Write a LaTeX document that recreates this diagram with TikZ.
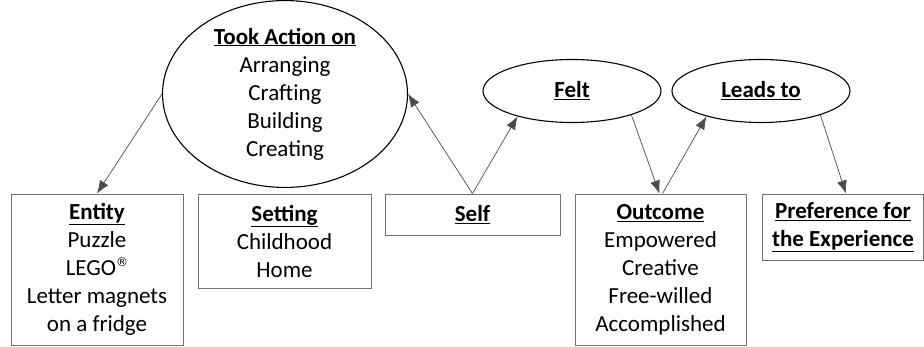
\documentclass[tikz,border=0pt]{standalone}
\usepackage{fontspec}
\setmainfont{Carlito}
\newfontfamily\symfont{DejaVu Sans}
\usetikzlibrary{positioning,shapes.geometric,arrows.meta}
\tikzset{x=1pt, y=-1pt,
  box/.style={draw=black!55, line width=0.9pt, align=center, inner sep=0pt, font=\fontsize{23}{28}\selectfont},
  oval/.style={draw=black, ellipse, line width=1.1pt, align=center, inner sep=0pt, font=\fontsize{23}{28}\selectfont},
  link/.style={draw=black!70, line width=0.7pt, -{Latex[length=13pt,width=10pt]}}}
\newcommand{\hd}[1]{\underline{\textbf{#1}}}
\newcommand{\reg}{\raisebox{0.8ex}{\symfont\fontsize{12}{12}\selectfont ®}}

\begin{document}
\begin{tikzpicture}
      \useasboundingbox (0,0) rectangle (924,347);
      \node[oval, minimum width=245, minimum height=168] (took) at (285,94)
        {\hd{Took Action on}\\Arranging\\Crafting\\Building\\Creating};
      \node[oval, minimum width=178, minimum height=63] (felt) at (572,91) {\hd{Felt}};
      \node[oval, minimum width=178, minimum height=63] (leads) at (761,91) {\hd{Leads to}};

      \node[box, minimum width=172, minimum height=151] (entity) at (97,269.5)
        {\hd{Entity}\\Puzzle\\LEGO\reg\\Letter magnets\\on a fridge};
      \node[box, minimum width=173, minimum height=94] (setting) at (284.5,241)
        {\hd{Setting}\\Childhood\\Home};
      \node[box, minimum width=175, minimum height=41] (self) at (472.5,214.5) {\hd{Self}};
      \node[box, minimum width=171, minimum height=151] (outcome) at (660.5,269.5)
        {\hd{Outcome}\\Empowered\\Creative\\Free-willed\\Accomplished};
      \node[box, minimum width=161, minimum height=66] (pref) at (843,227)
        {\hd{Preference for}\\\hd{the Experience}};

      \draw[link] (took.west) to (entity.north);
      \draw[link] (self.north) to (took.east);
      \draw[link] (self.north) to (felt.205);
      \draw[link] (felt.-22) to ([xshift=-1pt]outcome.north);
      \draw[link] ([xshift=2pt]outcome.north) to (leads.205);
      \draw[link] (leads.-22) to ([xshift=3pt]pref.north);
\end{tikzpicture}
\end{document}
